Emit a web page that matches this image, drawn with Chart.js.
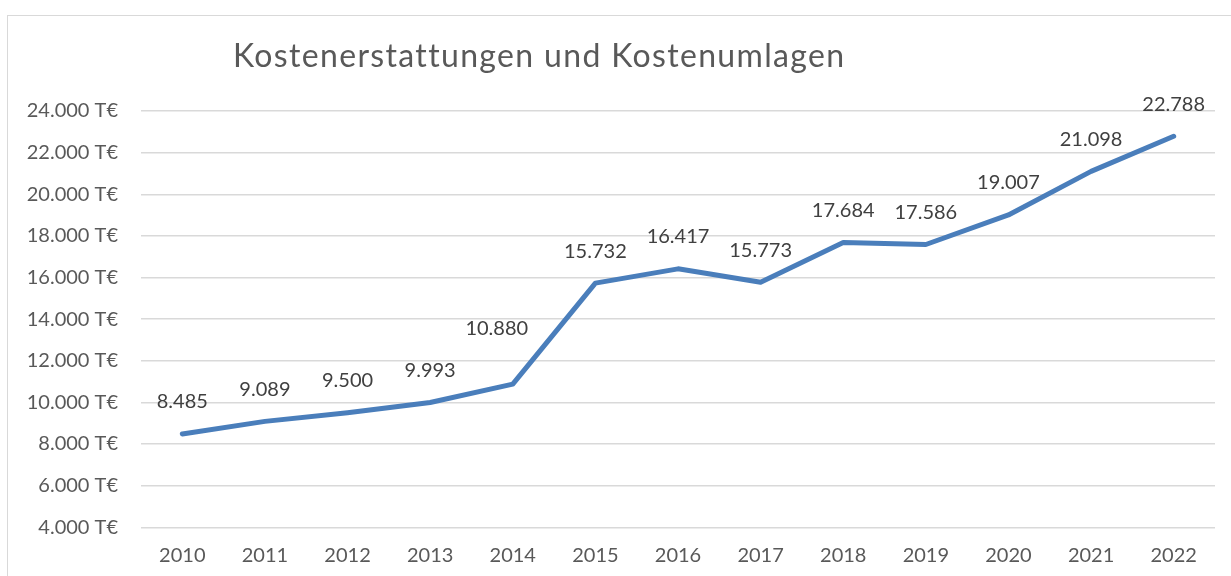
<!DOCTYPE html>
<html>
<head>
<meta charset="utf-8">
<script src="https://cdn.jsdelivr.net/npm/chart.js@4.4.1/dist/chart.umd.min.js"></script>
<style>
  html, body { margin: 0; padding: 0; background: #fff; overflow: hidden; }
  #wrap { position: relative; width: 1231px; height: 576px; }
  #frame { position: absolute; left: 7px; top: 15px; width: 1300px; height: 700px; border: 1px solid #d9d9d9; box-sizing: border-box; }
  canvas { position: absolute; left: 0; top: 0; }
</style>
</head>
<body>
<div id="wrap">
  <div id="frame"></div>
  <canvas id="c" width="1231" height="576"></canvas>
</div>
<script>
const chartTitle = 'Kostenerstattungen und Kostenumlagen';
const years = ['2010','2011','2012','2013','2014','2015','2016','2017','2018','2019','2020','2021','2022'];
const values = [8485, 9089, 9500, 9993, 10880, 15732, 16417, 15773, 17684, 17586, 19007, 21098, 22788];
const yMin = 4000;
const yMax = 24000;
const yStep = 2000;

const fmt = v => v.toLocaleString('de-DE');

const titlePlugin = {
  id: 'manualTitle',
  afterDraw(chart, args, opts) {
    const ctx = chart.ctx;
    ctx.save();
    ctx.font = '400 32px Lato';
    ctx.fillStyle = '#595959';
    ctx.textAlign = 'left';
    ctx.textBaseline = 'alphabetic';
    const natural = ctx.measureText(chartTitle).width;
    const extra = (opts.width - natural) / (chartTitle.length - 1);
    if ('letterSpacing' in ctx && extra > 0) ctx.letterSpacing = extra.toFixed(2) + 'px';
    ctx.fillText(chartTitle, opts.x, opts.y);
    ctx.restore();
  }
};

const labelPlugin = {
  id: 'valueLabels',
  afterDatasetsDraw(chart, args, opts) {
    const ctx = chart.ctx;
    const meta = chart.getDatasetMeta(0);
    ctx.save();
    ctx.font = '20px Lato';
    ctx.fillStyle = '#404040';
    ctx.textAlign = 'center';
    ctx.textBaseline = 'middle';
    meta.data.forEach((pt, i) => {
      const adj = (opts.adjust && opts.adjust[i]) || [0, 0];
      ctx.fillText(fmt(chart.data.datasets[0].data[i]), pt.x + adj[0], pt.y - opts.offset + adj[1]);
    });
    ctx.restore();
  }
};

new Chart(document.getElementById('c'), {
  type: 'line',
  data: {
    labels: years,
    datasets: [{
      data: values,
      borderColor: '#4a7ebb',
      borderWidth: 5,
      pointRadius: 0,
      pointHoverRadius: 0,
      tension: 0,
      borderCapStyle: 'round',
      borderJoinStyle: 'round',
      fill: false,
      clip: false
    }]
  },
  plugins: [titlePlugin, labelPlugin],
  options: {
    responsive: false,
    animation: false,
    devicePixelRatio: 1,
    layout: { padding: { top: 111, right: 16, bottom: 0, left: 0 } },
    plugins: {
      legend: { display: false },
      title: { display: false },
      tooltip: { enabled: false },
      manualTitle: { x: 233, y: 67, width: 610 },
      valueLabels: { offset: 32, adjust: { 4: [-16, -24] } }
    },
    scales: {
      x: {
        type: 'category',
        offset: true,
        grid: { display: false, drawTicks: false },
        border: { display: false },
        ticks: { color: '#595959', font: { family: 'Lato', size: 20 }, padding: 16, maxRotation: 0, autoSkip: false },
        afterFit(s) { s.height = 48.7; }
      },
      y: {
        min: yMin,
        max: yMax,
        grid: { color: '#d9d9d9', lineWidth: 1.5, drawTicks: false },
        border: { display: false },
        ticks: {
          stepSize: yStep,
          color: '#595959',
          font: { family: 'Lato', size: 20 },
          padding: 23,
          callback: v => fmt(v) + ' T€'
        },
        afterFit(s) { s.width = 141; }
      }
    }
  }
});
</script>
</body>
</html>
